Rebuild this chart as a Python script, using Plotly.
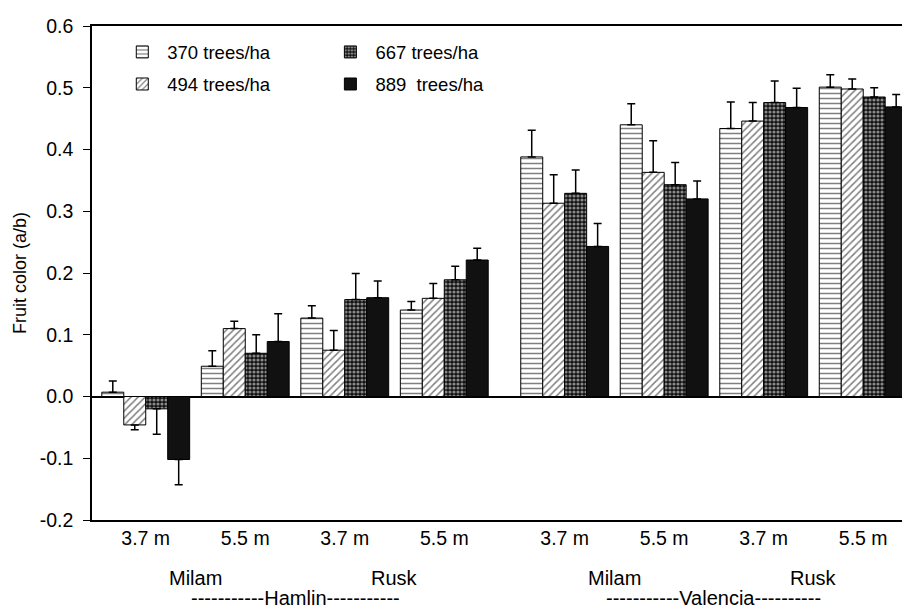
import plotly.graph_objects as go

# ---- data ----
group_x = [0, 1, 2, 3, 4.21, 5.21, 6.21, 7.21]
spacing_labels = ["3.7 m", "5.5 m", "3.7 m", "5.5 m", "3.7 m", "5.5 m", "3.7 m", "5.5 m"]
series_names = ["370 trees/ha", "494 trees/ha", "667 trees/ha", "889  trees/ha"]

v370 = [0.007, 0.049, 0.127, 0.140, 0.388, 0.440, 0.434, 0.501]
v494 = [-0.046, 0.110, 0.075, 0.159, 0.313, 0.363, 0.446, 0.498]
v667 = [-0.020, 0.070, 0.157, 0.189, 0.329, 0.343, 0.476, 0.485]
v889 = [-0.102, 0.089, 0.160, 0.221, 0.243, 0.320, 0.468, 0.469]

e370 = [0.018, 0.025, 0.020, 0.014, 0.043, 0.034, 0.043, 0.020]
e494 = [0.008, 0.012, 0.032, 0.024, 0.046, 0.051, 0.030, 0.016]
e667 = [0.041, 0.030, 0.042, 0.022, 0.038, 0.036, 0.035, 0.015]
e889 = [0.041, 0.045, 0.027, 0.019, 0.037, 0.029, 0.031, 0.020]

site_labels = ["Milam", "Rusk", "Milam", "Rusk"]
site_x = [0.5, 2.5, 4.71, 6.71]
cultivar_labels = ["-----------Hamlin-----------", "-----------Valencia----------"]
cultivar_x = [1.5, 5.71]

y_tickvals = [-0.2, -0.1, 0.0, 0.1, 0.2, 0.3, 0.4, 0.5, 0.6]
y_ticktext = ["-0.2", "-0.1", "0.0", "0.1", "0.2", "0.3", "0.4", "0.5", "0.6"]

# ---- styles ----
FONT = "Liberation Sans, Arial, sans-serif"
patterns = [
    dict(shape="-", fgcolor="black", bgcolor="white", size=5, solidity=0.3),
    dict(shape="/", fgcolor="black", bgcolor="white", size=5, solidity=0.3),
    dict(shape=".", fgcolor="white", bgcolor="#111111", size=4, solidity=0.5),
    None,
]
fills = ["white", "white", "#111111", "#111111"]
legends = ["legend", "legend", "legend2", "legend2"]

values = [v370, v494, v667, v889]
errors = [e370, e494, e667, e889]

fig = go.Figure()
for i, (name, vals, errs) in enumerate(zip(series_names, values, errors)):
    plus = [e if v >= 0 else 0 for v, e in zip(vals, errs)]
    minus = [e if v < 0 else 0 for v, e in zip(vals, errs)]
    marker = dict(color=fills[i], line=dict(color="black", width=1))
    if patterns[i] is not None:
        marker["pattern"] = patterns[i]
    fig.add_trace(go.Bar(
        x=group_x, y=vals, name=name, marker=marker,
        legend=legends[i], legendgroup=name,
        error_y=dict(type="data", symmetric=False, array=plus, arrayminus=minus,
                     color="black", thickness=1.5, width=4),
    ))

annotations = []
for lab, xv in zip(site_labels, site_x):
    annotations.append(dict(text=lab, x=xv, xref="x", y=0, yref="paper",
                            yanchor="middle", yshift=-58, showarrow=False,
                            font=dict(family=FONT, size=20, color="black")))
for lab, xv in zip(cultivar_labels, cultivar_x):
    annotations.append(dict(text=lab, x=xv, xref="x", y=0, yref="paper",
                            yanchor="middle", yshift=-78, showarrow=False,
                            font=dict(family=FONT, size=20, color="black")))

fig.update_layout(
    width=902, height=601,
    margin=dict(l=84, r=0, t=18, b=89),
    paper_bgcolor="white", plot_bgcolor="white",
    barmode="group", bargap=0.117, bargroupgap=0,
    font=dict(family=FONT, color="black", size=18),
    showlegend=True,
    legend=dict(x=0.031, xanchor="left", y=0.985, yanchor="top",
                bgcolor="rgba(0,0,0,0)", font=dict(size=18.5, family=FONT),
                tracegroupgap=5, itemwidth=40),
    legend2=dict(x=0.286, xanchor="left", y=0.985, yanchor="top",
                 bgcolor="rgba(0,0,0,0)", font=dict(size=18.5, family=FONT),
                 tracegroupgap=5, itemwidth=40),
    xaxis=dict(range=[-0.54, 7.66], tickvals=group_x, ticktext=spacing_labels,
               showline=True, linecolor="black", linewidth=1.5, mirror=True,
               ticks="", showgrid=False, zeroline=False,
               tickfont=dict(size=19.5, family=FONT, color="black")),
    yaxis=dict(range=[-0.2, 0.6], tickvals=y_tickvals, ticktext=y_ticktext,
               showline=True, linecolor="black", linewidth=1.5, mirror=True,
               ticks="outside", ticklen=7, tickwidth=1, tickcolor="black",
               ticklabelstandoff=6,
               showgrid=False, zeroline=True, zerolinecolor="black", zerolinewidth=1.5,
               tickfont=dict(size=19.5, family=FONT, color="black"),
               title=dict(text="Fruit color (a/b)", standoff=8,
                          font=dict(size=18, family=FONT, color="black"))),
    annotations=annotations,
)

fig.write_html("out.html")
